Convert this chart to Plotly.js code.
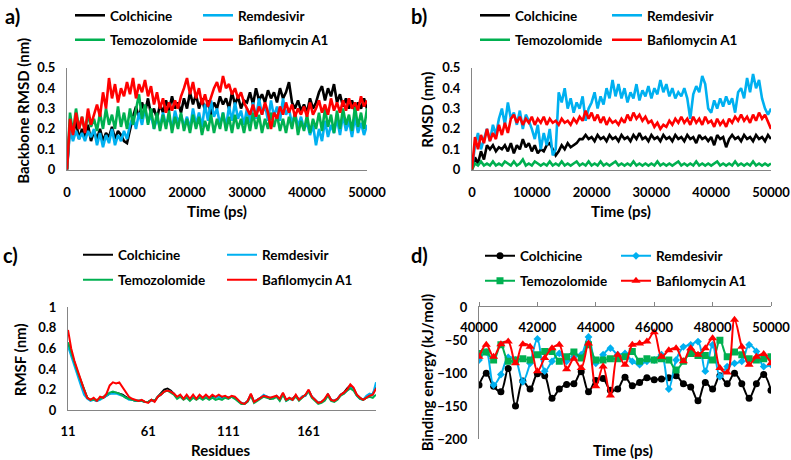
<!DOCTYPE html>
<html><head><meta charset="utf-8">
<script src="https://cdn.plot.ly/plotly-3.0.1.min.js"></script>
<style>html,body{margin:0;padding:0;background:#fff}#chart{width:791px;height:460px}</style>
</head><body><div id="chart"></div>
<script>
// ---------- DATA ----------
var seriesNames = ["Colchicine", "Remdesivir", "Temozolomide", "Bafilomycin A1"];
var timeTicks = [0, 10000, 20000, 30000, 40000, 50000];
var resTicks = [11, 61, 111, 161];
var energyTimeTicks = [40000, 42000, 44000, 46000, 48000, 50000];

// Panel a: backbone RMSD (nm), sampled every 500 ps
var aColchicine = [0,0.22,0.17,0.24,0.15,0.2,0.16,0.22,0.14,0.19,
 0.15,0.2,0.14,0.18,0.16,0.21,0.15,0.19,0.17,0.14,
 0.13,0.2,0.26,0.31,0.25,0.33,0.28,0.35,0.27,0.3,
 0.25,0.32,0.28,0.34,0.29,0.36,0.3,0.33,0.28,0.35,
 0.3,0.38,0.32,0.37,0.3,0.35,0.29,0.34,0.27,0.33,
 0.3,0.36,0.32,0.35,0.3,0.38,0.32,0.36,0.3,0.34,
 0.33,0.38,0.32,0.4,0.34,0.37,0.33,0.39,0.35,0.38,
 0.33,0.4,0.35,0.38,0.43,0.33,0.3,0.34,0.29,0.32,
 0.28,0.35,0.3,0.33,0.38,0.41,0.34,0.4,0.36,0.42,
 0.33,0.37,0.31,0.35,0.3,0.34,0.29,0.33,0.3,0.35,0.3];
var aRemdesivir = [0,0.2,0.14,0.19,0.15,0.18,0.14,0.19,0.16,0.2,
 0.12,0.18,0.11,0.17,0.13,0.2,0.12,0.17,0.14,0.19,
 0.15,0.22,0.26,0.2,0.28,0.22,0.3,0.23,0.27,0.2,
 0.25,0.21,0.28,0.22,0.26,0.2,0.29,0.23,0.27,0.21,
 0.26,0.2,0.3,0.22,0.28,0.21,0.32,0.24,0.34,0.26,
 0.3,0.22,0.28,0.21,0.31,0.24,0.33,0.25,0.29,0.22,
 0.3,0.23,0.33,0.25,0.35,0.27,0.32,0.24,0.34,0.26,
 0.31,0.24,0.35,0.27,0.3,0.22,0.28,0.21,0.26,0.2,
 0.23,0.17,0.22,0.12,0.2,0.14,0.24,0.16,0.22,0.18,
 0.25,0.17,0.27,0.19,0.24,0.16,0.26,0.18,0.23,0.17,0.22];
var aTemozolomide = [0,0.28,0.18,0.3,0.2,0.26,0.19,0.27,0.21,0.25,
 0.19,0.28,0.2,0.3,0.22,0.27,0.2,0.31,0.21,0.28,
 0.2,0.3,0.22,0.29,0.37,0.25,0.32,0.22,0.3,0.2,
 0.28,0.19,0.27,0.2,0.29,0.18,0.26,0.2,0.28,0.19,
 0.25,0.18,0.27,0.2,0.26,0.17,0.24,0.19,0.27,0.18,
 0.25,0.2,0.28,0.19,0.26,0.18,0.27,0.2,0.25,0.18,
 0.26,0.19,0.28,0.2,0.27,0.18,0.25,0.2,0.28,0.21,
 0.27,0.19,0.25,0.18,0.26,0.2,0.28,0.17,0.24,0.19,
 0.27,0.18,0.25,0.2,0.28,0.19,0.3,0.21,0.27,0.18,
 0.29,0.2,0.3,0.22,0.27,0.19,0.31,0.21,0.28,0.2,0.3];
var aBafilomycin = [0,0.25,0.17,0.28,0.2,0.26,0.18,0.3,0.22,0.27,
 0.32,0.26,0.38,0.3,0.45,0.35,0.42,0.33,0.4,0.36,
 0.43,0.37,0.45,0.35,0.42,0.38,0.44,0.36,0.41,0.32,
 0.38,0.3,0.35,0.28,0.33,0.29,0.34,0.3,0.36,0.4,
 0.45,0.37,0.43,0.35,0.4,0.32,0.37,0.31,0.36,0.4,
 0.43,0.38,0.46,0.4,0.42,0.37,0.4,0.35,0.38,0.33,
 0.3,0.27,0.32,0.26,0.31,0.27,0.33,0.28,0.2,0.28,
 0.25,0.31,0.27,0.33,0.28,0.32,0.26,0.3,0.27,0.31,
 0.26,0.33,0.27,0.3,0.34,0.28,0.32,0.27,0.35,0.29,
 0.33,0.28,0.34,0.29,0.35,0.3,0.33,0.29,0.36,0.31,0.34];

// Panel b: ligand RMSD (nm), sampled every 500 ps
var bColchicine = [0,0.06,0.03,0.09,0.05,0.12,0.1,0.12,0.09,0.11,
 0.1,0.12,0.09,0.13,0.08,0.12,0.1,0.15,0.11,0.13,
 0.09,0.12,0.08,0.1,0.09,0.12,0.13,0.1,0.07,0.09,
 0.12,0.1,0.13,0.11,0.12,0.13,0.15,0.15,0.17,0.15,
 0.16,0.14,0.17,0.15,0.16,0.14,0.17,0.15,0.16,0.14,
 0.17,0.15,0.16,0.14,0.17,0.15,0.18,0.15,0.16,0.14,
 0.17,0.15,0.16,0.14,0.17,0.15,0.16,0.14,0.17,0.15,
 0.16,0.14,0.17,0.15,0.16,0.13,0.17,0.15,0.16,0.14,
 0.16,0.12,0.17,0.15,0.16,0.11,0.15,0.17,0.15,0.16,
 0.14,0.17,0.15,0.16,0.14,0.17,0.15,0.16,0.14,0.17,0.15];
var bRemdesivir = [0,0.12,0.18,0.1,0.15,0.2,0.14,0.22,0.17,0.25,
 0.3,0.22,0.33,0.25,0.28,0.22,0.29,0.2,0.27,0.24,
 0.2,0.15,0.22,0.1,0.18,0.12,0.2,0.07,0.1,0.38,
 0.33,0.4,0.3,0.35,0.28,0.33,0.3,0.36,0.24,0.3,
 0.33,0.38,0.3,0.36,0.32,0.4,0.35,0.44,0.36,0.42,
 0.35,0.4,0.33,0.38,0.35,0.42,0.34,0.39,0.36,0.41,
 0.35,0.4,0.37,0.44,0.38,0.42,0.36,0.4,0.35,0.38,
 0.36,0.4,0.35,0.25,0.37,0.41,0.38,0.46,0.42,0.3,
 0.28,0.34,0.3,0.35,0.31,0.36,0.32,0.35,0.28,0.38,
 0.4,0.35,0.45,0.38,0.47,0.4,0.44,0.35,0.3,0.27,0.3];
var bTemozolomide = [0,0.03,0.02,0.04,0.02,0.03,0.02,0.04,0.02,0.03,
 0.02,0.04,0.03,0.02,0.04,0.02,0.03,0.05,0.02,0.03,
 0.02,0.04,0.03,0.02,0.03,0.02,0.04,0.02,0.03,0.02,
 0.04,0.02,0.03,0.02,0.03,0.04,0.02,0.03,0.02,0.04,
 0.02,0.03,0.02,0.04,0.02,0.03,0.02,0.03,0.04,0.02,
 0.03,0.02,0.03,0.02,0.04,0.02,0.03,0.02,0.03,0.02,
 0.03,0.02,0.04,0.02,0.03,0.02,0.03,0.02,0.03,0.04,
 0.02,0.03,0.02,0.03,0.02,0.04,0.02,0.03,0.02,0.03,
 0.02,0.03,0.04,0.02,0.03,0.02,0.03,0.02,0.04,0.02,
 0.03,0.02,0.03,0.02,0.04,0.02,0.03,0.02,0.03,0.02,0.03];
var bBafilomycin = [0,0.16,0.1,0.17,0.13,0.2,0.14,0.18,0.15,0.22,
 0.17,0.23,0.18,0.25,0.27,0.23,0.26,0.22,0.25,0.23,
 0.26,0.22,0.25,0.23,0.26,0.22,0.25,0.23,0.24,0.22,
 0.25,0.23,0.24,0.22,0.25,0.23,0.26,0.24,0.29,0.25,
 0.28,0.24,0.27,0.23,0.26,0.22,0.25,0.23,0.24,0.22,
 0.25,0.23,0.27,0.24,0.28,0.25,0.27,0.24,0.26,0.23,
 0.24,0.21,0.23,0.2,0.22,0.21,0.24,0.22,0.25,0.23,
 0.26,0.23,0.25,0.22,0.26,0.23,0.25,0.22,0.26,0.23,
 0.24,0.21,0.25,0.22,0.24,0.21,0.25,0.23,0.26,0.24,
 0.27,0.24,0.26,0.23,0.27,0.24,0.28,0.25,0.27,0.23,0.2];

// Panel c: RMSF (nm) per residue, every 2nd residue from 11 to 203
var cColchicine = [0.65,0.55,0.45,0.36,0.28,0.19,0.12,0.1,0.1,0.09,
 0.11,0.12,0.14,0.16,0.17,0.17,0.16,0.15,0.13,0.11,
 0.1,0.09,0.09,0.09,0.08,0.08,0.1,0.09,0.13,0.16,
 0.2,0.21,0.19,0.16,0.12,0.14,0.11,0.13,0.1,0.13,
 0.11,0.13,0.11,0.13,0.11,0.13,0.12,0.14,0.12,0.13,
 0.12,0.13,0.12,0.09,0.07,0.06,0.09,0.15,0.08,0.1,
 0.12,0.14,0.13,0.11,0.12,0.13,0.1,0.16,0.1,0.11,
 0.11,0.14,0.1,0.13,0.14,0.19,0.13,0.1,0.07,0.08,
 0.1,0.15,0.1,0.09,0.11,0.15,0.17,0.21,0.24,0.21,
 0.15,0.12,0.1,0.12,0.14,0.16,0.22];
var cRemdesivir = [0.62,0.52,0.42,0.32,0.24,0.15,0.11,0.09,0.1,0.09,
 0.1,0.12,0.14,0.16,0.16,0.16,0.15,0.14,0.12,0.1,
 0.1,0.09,0.09,0.09,0.08,0.08,0.09,0.09,0.13,0.15,
 0.18,0.19,0.18,0.16,0.12,0.14,0.11,0.13,0.1,0.13,
 0.11,0.13,0.11,0.13,0.11,0.12,0.12,0.13,0.11,0.13,
 0.12,0.13,0.12,0.09,0.07,0.06,0.09,0.15,0.08,0.1,
 0.12,0.15,0.13,0.12,0.12,0.14,0.1,0.16,0.09,0.11,
 0.1,0.14,0.1,0.13,0.14,0.19,0.13,0.1,0.07,0.08,
 0.1,0.15,0.1,0.09,0.11,0.15,0.16,0.19,0.22,0.2,
 0.14,0.11,0.1,0.14,0.16,0.15,0.27];
var cTemozolomide = [0.66,0.56,0.46,0.37,0.29,0.2,0.12,0.1,0.1,0.1,
 0.11,0.13,0.15,0.17,0.18,0.17,0.16,0.14,0.12,0.11,
 0.1,0.09,0.09,0.09,0.08,0.08,0.1,0.09,0.13,0.16,
 0.18,0.19,0.17,0.15,0.11,0.13,0.1,0.12,0.09,0.12,
 0.1,0.12,0.1,0.12,0.1,0.12,0.1,0.11,0.1,0.12,
 0.11,0.13,0.11,0.08,0.06,0.06,0.08,0.14,0.07,0.09,
 0.11,0.13,0.12,0.11,0.11,0.13,0.09,0.15,0.09,0.11,
 0.1,0.13,0.09,0.12,0.14,0.18,0.12,0.09,0.06,0.07,
 0.09,0.14,0.09,0.08,0.1,0.14,0.16,0.19,0.21,0.19,
 0.14,0.11,0.1,0.12,0.13,0.12,0.15];
var cBafilomycin = [0.78,0.6,0.48,0.38,0.3,0.2,0.12,0.1,0.12,0.09,
 0.13,0.12,0.16,0.24,0.27,0.26,0.27,0.22,0.17,0.13,
 0.11,0.1,0.09,0.1,0.08,0.07,0.1,0.08,0.13,0.15,
 0.18,0.19,0.18,0.16,0.13,0.15,0.11,0.15,0.11,0.15,
 0.11,0.15,0.12,0.15,0.12,0.15,0.13,0.15,0.13,0.14,
 0.12,0.14,0.13,0.1,0.07,0.06,0.09,0.16,0.08,0.1,
 0.12,0.14,0.13,0.12,0.13,0.14,0.11,0.17,0.1,0.12,
 0.1,0.15,0.1,0.13,0.15,0.2,0.13,0.1,0.07,0.08,
 0.11,0.16,0.1,0.09,0.11,0.15,0.17,0.2,0.25,0.22,
 0.15,0.12,0.1,0.12,0.14,0.15,0.21];

// Panel d: binding energy (kJ/mol), every 250 ps from 40000 to 50000
var dColchicine = [-118,-100,-120,-128,-93,-150,-112,-124,-101,-104,
 -138,-124,-117,-116,-98,-128,-111,-108,-126,-124,
 -106,-119,-114,-107,-110,-109,-107,-104,-116,-121,
 -142,-114,-124,-104,-116,-100,-116,-138,-116,-102,-126];
var dRemdesivir = [-80,-68,-118,-102,-76,-80,-113,-85,-48,-97,
 -82,-70,-82,-75,-72,-45,-85,-72,-62,-72,
 -70,-82,-87,-82,-80,-72,-124,-80,-60,-57,
 -52,-97,-57,-105,-90,-85,-82,-57,-67,-90,-87];
var dTemozolomide = [-70,-68,-80,-57,-82,-80,-78,-80,-72,-67,
 -67,-82,-75,-68,-77,-57,-80,-80,-78,-78,
 -75,-67,-82,-78,-80,-78,-80,-95,-82,-70,
 -73,-73,-80,-50,-75,-68,-72,-78,-80,-78,-75];
var dBafilomycin = [-75,-57,-75,-56,-52,-85,-56,-60,-97,-77,
 -62,-57,-94,-78,-92,-55,-120,-90,-134,-72,
 -87,-57,-55,-52,-38,-75,-65,-62,-82,-62,
 -72,-62,-47,-92,-99,-19,-60,-87,-75,-71,-85];

// sample positions (x coordinates of samples)
var timeAB = []; for (var i = 0; i < aColchicine.length; i++) timeAB.push(i * 500);
var residues = []; for (var j = 0; j < cColchicine.length; j++) residues.push(11 + 2 * j);
var timeD = []; for (var k = 0; k < dColchicine.length; k++) timeD.push(40000 + 250 * k);

// ---------- STYLE ----------
var W = 791, H = 460;
var colors = ["#000000", "#00B0F0", "#00B050", "#FF0000"];
var symbols = ["circle", "diamond", "square", "triangle-up"];
var msize = [7, 6, 7, 8];
var FONT = "Lato, 'Open Sans', 'DejaVu Sans', sans-serif";
function px(x) { return x / W; }
function py(y) { return 1 - y / H; }
var tickFont = {family: FONT, size: 13, color: "#000", weight: "bold"};

// legend sample-line start (px) per panel: [col1, col2], rows y
var legendPos = [
  {cols: [75, 203], rows: [15, 40]},
  {cols: [480, 612], rows: [15, 40]},
  {cols: [83, 227], rows: [255, 280]},
  {cols: [485, 621], rows: [256, 281]}
];

var traces = [];
var layout = {
  width: W, height: H, margin: {l: 0, r: 0, t: 0, b: 0},
  paper_bgcolor: "#fff", plot_bgcolor: "#fff", showlegend: true
};
function legName(n) { return n === 1 ? "legend" : "legend" + n; }

function addLines(p, xs, ys4, xa, ya, lw, extra) {
  for (var s = 0; s < 4; s++) {
    var n = p * 4 + s + 1;
    var t = {
      x: xs, y: ys4[s], name: seriesNames[s], type: "scatter", mode: "lines",
      xaxis: xa, yaxis: ya, legend: legName(n),
      line: {color: colors[s], width: lw}, hoverinfo: "skip"
    };
    if (extra) {
      t.mode = "lines+markers";
      t.line.shape = "spline";
      t.marker = {symbol: symbols[s], size: msize[s], color: colors[s]};
    }
    traces.push(t);
    var lp = legendPos[p];
    layout[legName(n)] = {
      x: px(lp.cols[s % 2] - 5), y: py(lp.rows[s < 2 ? 0 : 1]),
      xanchor: "left", yanchor: "middle", orientation: "h", itemwidth: 30,
      bgcolor: "rgba(0,0,0,0)", borderwidth: 0,
      font: {family: FONT, size: 13.5, color: "#000", weight: "bold"}
    };
  }
}
addLines(0, timeAB, [aColchicine, aRemdesivir, aTemozolomide, aBafilomycin], "x", "y", 2.6);
addLines(1, timeAB, [bColchicine, bRemdesivir, bTemozolomide, bBafilomycin], "x2", "y2", 2.6);
addLines(2, residues, [cColchicine, cRemdesivir, cTemozolomide, cBafilomycin], "x3", "y3", 2);
addLines(3, timeD, [dColchicine, dRemdesivir, dTemozolomide, dBafilomycin], "x4", "y4", 2, true);

function baseAxis(o) {
  var a = {showgrid: false, zeroline: false, showline: true, linecolor: "#858585", linewidth: 1,
    ticks: "", tickfont: tickFont, fixedrange: true, tickformat: "d"};
  for (var key in o) a[key] = o[key];
  return a;
}
function ann(text, xp, yp, size, angle) {
  return {text: text, x: px(xp), y: py(yp), xref: "paper", yref: "paper", showarrow: false,
    xanchor: "center", yanchor: "middle", textangle: angle || 0,
    font: {family: FONT, size: size, color: "#000", weight: "bold"}};
}

layout.xaxis = baseAxis({domain: [px(67), px(367)], range: [0, 50000], tickvals: timeTicks, anchor: "y", ticklabelstandoff: 11});
layout.yaxis = baseAxis({domain: [py(169), py(67)], range: [0, 0.5], dtick: 0.1, tickformat: "", anchor: "x", ticklabelstandoff: 8});
layout.xaxis2 = baseAxis({domain: [px(472), px(771)], range: [0, 50000], tickvals: timeTicks, anchor: "y2", ticklabelstandoff: 11});
layout.yaxis2 = baseAxis({domain: [py(169), py(67)], range: [0, 0.5], dtick: 0.1, tickformat: "", anchor: "x2", ticklabelstandoff: 8});
layout.xaxis3 = baseAxis({domain: [px(68), px(376)], range: [11, 203], tickvals: resTicks, anchor: "y3", ticklabelstandoff: 9});
layout.yaxis3 = baseAxis({domain: [py(410), py(307)], range: [0, 1], dtick: 0.2, tickformat: "", anchor: "x3", ticklabelstandoff: 8});
layout.xaxis4 = baseAxis({domain: [px(479), px(771)], range: [40000, 50000], tickvals: energyTimeTicks, anchor: "y4",
    side: "top", ticks: "outside", ticklen: 4, tickcolor: "#858585", ticklabelposition: "inside",
    ticklabeloverflow: "allow", ticklabelstandoff: 15});
layout.yaxis4 = baseAxis({domain: [py(439), py(307)], range: [-200, 0], dtick: 50, anchor: "x4", ticklabelstandoff: 8});
layout.annotations = [
    ann("a)", 13, 15, 20), ann("b)", 419, 15, 20), ann("c)", 10, 255, 20), ann("d)", 419, 255, 20),
    ann("Backbone RMSD (nm)", 23, 110, 15, -90), ann("RMSD (nm)", 427, 109, 15, -90),
    ann("RMSF (nm)", 20, 360, 15, -90), ann("Binding energy (kJ/mol)", 427, 372, 15, -90),
    ann("Time (ps)", 217, 210, 15), ann("Time (ps)", 621, 210, 15),
    ann("Residues", 221, 450, 15), ann("Time (ps)", 623, 450, 15)
];
Plotly.newPlot("chart", traces, layout, {displayModeBar: false, staticPlot: true});
</script></body></html>
